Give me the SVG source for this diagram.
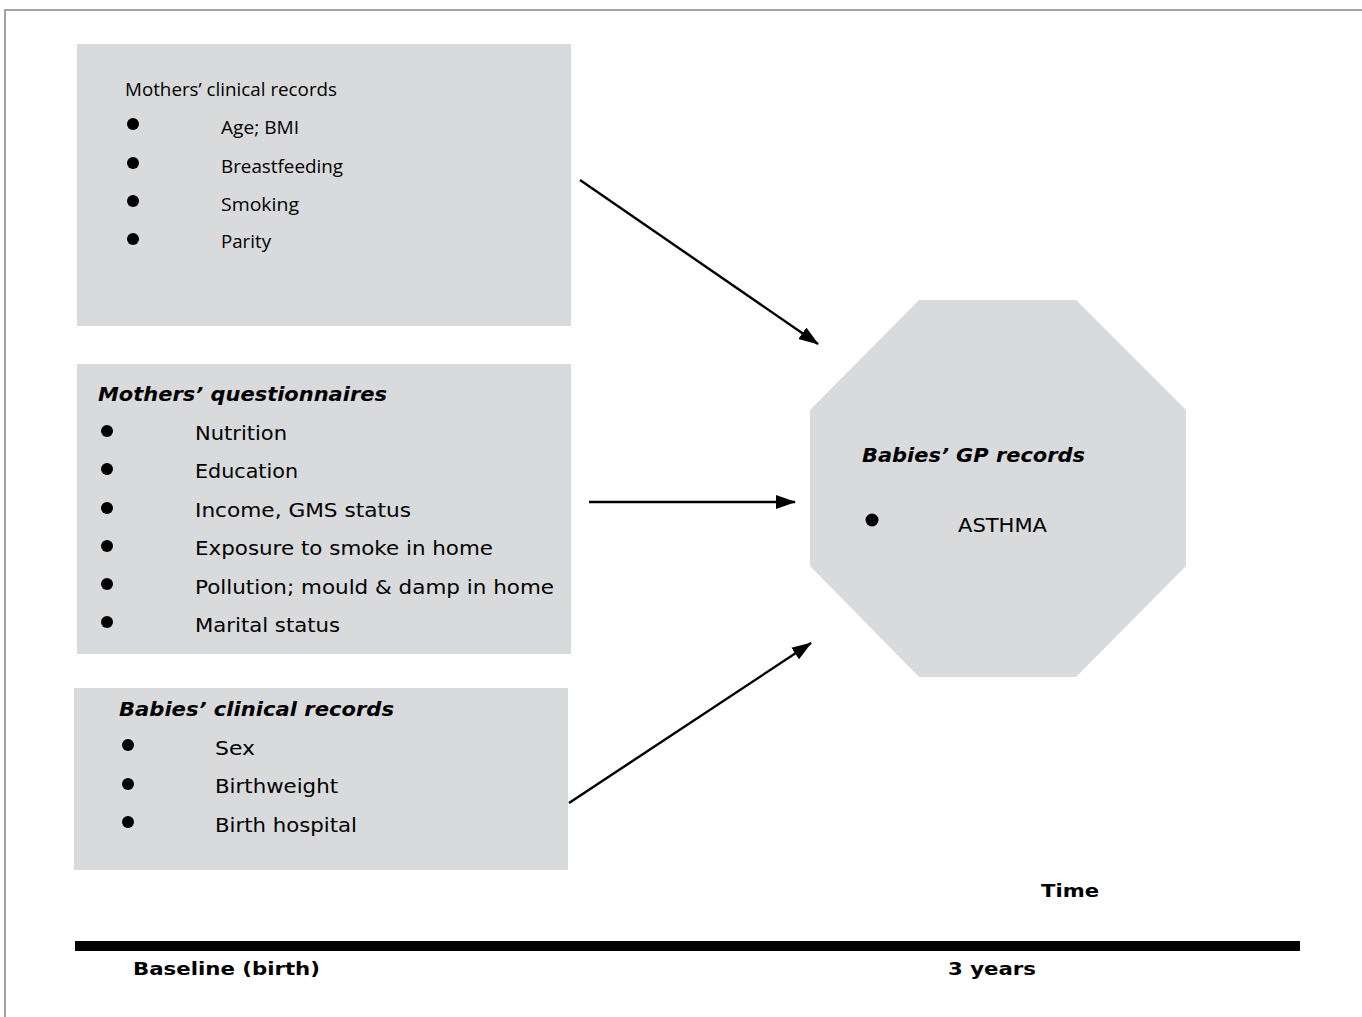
<svg xmlns="http://www.w3.org/2000/svg" width="1362" height="1017" viewBox="0 0 1362 1017">
<style>
.box{fill:#d9dadc;}
.myr{font-family:"Open Sans","Liberation Sans",sans-serif;font-size:18px;fill:#000;}
.ver{font-family:"DejaVu Sans","Verdana",sans-serif;font-size:20px;fill:#000;}
.hdr{font-family:"DejaVu Sans","Verdana",sans-serif;font-size:20px;font-weight:bold;font-style:italic;fill:#000;}
.lbl{font-family:"DejaVu Sans","Verdana",sans-serif;font-size:18px;font-weight:bold;fill:#000;}
.bul{fill:#000;}
.conn{stroke:#000;stroke-width:2.4;fill:none;}
</style>
<defs>
<marker id="ah" markerWidth="20" markerHeight="14" refX="19" refY="7" orient="auto" markerUnits="userSpaceOnUse">
<path d="M0,0 L20,7 L0,14 Z" fill="#000"/>
</marker>
</defs>
<rect x="0" y="0" width="1362" height="1017" fill="#fff"/>
<path d="M5,1017 L5,10 L1362,10" stroke="#a3a3a3" stroke-width="2" fill="none"/>

<g id="mothers-clinical">
<rect class="box" x="77" y="44" width="494" height="282"/>
<text class="myr" x="125" y="96" textLength="212" lengthAdjust="spacingAndGlyphs">Mothers’ clinical records</text>
<circle class="bul" cx="133" cy="124" r="6"/>
<circle class="bul" cx="133" cy="163" r="6"/>
<circle class="bul" cx="133" cy="201" r="6"/>
<circle class="bul" cx="133" cy="239" r="6"/>
<text class="myr" x="221" y="134" textLength="78" lengthAdjust="spacingAndGlyphs">Age; BMI</text>
<text class="myr" x="221" y="173" textLength="122" lengthAdjust="spacingAndGlyphs">Breastfeeding</text>
<text class="myr" x="221" y="211" textLength="78" lengthAdjust="spacingAndGlyphs">Smoking</text>
<text class="myr" x="221" y="248" textLength="50" lengthAdjust="spacingAndGlyphs">Parity</text>
</g>

<g id="mothers-questionnaires">
<rect class="box" x="77" y="364" width="494" height="290"/>
<text class="hdr" x="98" y="401" textLength="289" lengthAdjust="spacingAndGlyphs">Mothers’ questionnaires</text>
<circle class="bul" cx="107" cy="431" r="6"/>
<circle class="bul" cx="107" cy="469" r="6"/>
<circle class="bul" cx="107" cy="508" r="6"/>
<circle class="bul" cx="107" cy="546" r="6"/>
<circle class="bul" cx="107" cy="584" r="6"/>
<circle class="bul" cx="107" cy="622" r="6"/>
<text class="ver" x="195" y="440" textLength="92" lengthAdjust="spacingAndGlyphs">Nutrition</text>
<text class="ver" x="195" y="478" textLength="103" lengthAdjust="spacingAndGlyphs">Education</text>
<text class="ver" x="195" y="517" textLength="216" lengthAdjust="spacingAndGlyphs">Income, GMS status</text>
<text class="ver" x="195" y="555" textLength="298" lengthAdjust="spacingAndGlyphs">Exposure to smoke in home</text>
<text class="ver" x="195" y="594" textLength="359" lengthAdjust="spacingAndGlyphs">Pollution; mould &amp; damp in home</text>
<text class="ver" x="195" y="632" textLength="145" lengthAdjust="spacingAndGlyphs">Marital status</text>
</g>

<g id="babies-clinical">
<rect class="box" x="74" y="688" width="494" height="182"/>
<text class="hdr" x="119" y="716" textLength="275" lengthAdjust="spacingAndGlyphs">Babies’ clinical records</text>
<circle class="bul" cx="128" cy="745" r="6"/>
<circle class="bul" cx="128" cy="784" r="6"/>
<circle class="bul" cx="128" cy="822" r="6"/>
<text class="ver" x="215" y="755" textLength="40" lengthAdjust="spacingAndGlyphs">Sex</text>
<text class="ver" x="215" y="793" textLength="123" lengthAdjust="spacingAndGlyphs">Birthweight</text>
<text class="ver" x="215" y="832" textLength="142" lengthAdjust="spacingAndGlyphs">Birth hospital</text>
</g>

<g id="babies-gp">
<polygon class="box" points="919,300 1076,300 1186,410 1186,566 1076,677 919,677 810,566 810,410"/>
<text class="hdr" x="862" y="462" textLength="223" lengthAdjust="spacingAndGlyphs">Babies’ GP records</text>
<circle class="bul" cx="872" cy="520" r="6.5"/>
<text class="ver" x="958" y="532" textLength="89" lengthAdjust="spacingAndGlyphs">ASTHMA</text>
</g>

<g id="connectors">
<line class="conn" x1="580" y1="180" x2="818" y2="344" marker-end="url(#ah)"/>
<line class="conn" x1="589" y1="502" x2="795" y2="502" marker-end="url(#ah)"/>
<line class="conn" x1="569" y1="803" x2="811" y2="643" marker-end="url(#ah)"/>
</g>

<g id="timeline">
<rect x="75" y="941" width="1225" height="10" fill="#000"/>
<text class="lbl" x="1041" y="897" textLength="58" lengthAdjust="spacingAndGlyphs">Time</text>
<text class="lbl" x="133" y="975" textLength="187" lengthAdjust="spacingAndGlyphs">Baseline (birth)</text>
<text class="lbl" x="948" y="975" textLength="88" lengthAdjust="spacingAndGlyphs">3 years</text>
</g>
</svg>
